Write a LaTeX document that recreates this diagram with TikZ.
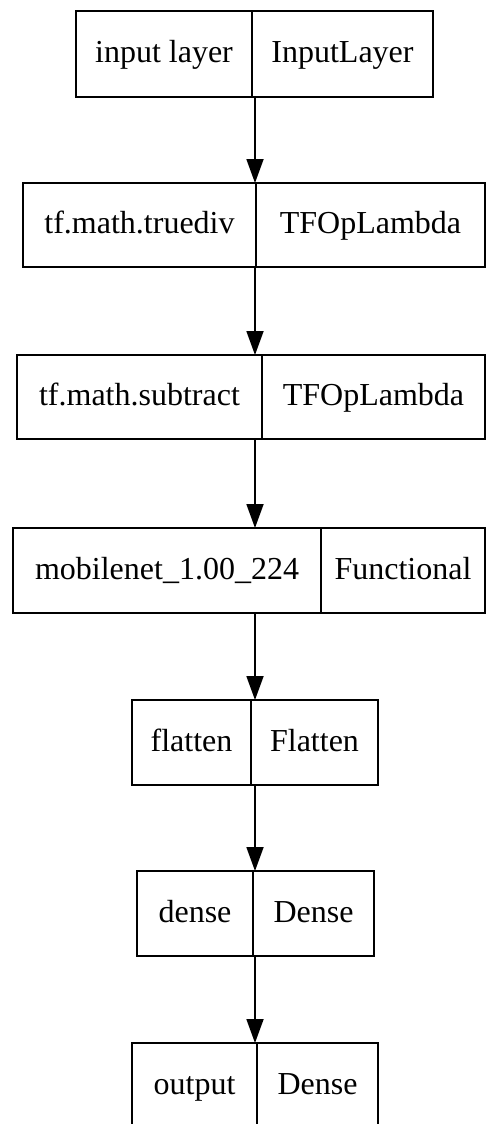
\documentclass[tikz,border=0pt]{standalone}
\usepackage{fontspec}
\setmainfont{Liberation Serif}
\usetikzlibrary{arrows.meta}

\tikzset{
  cell/.style={draw=black, line width=1.8pt, minimum height=85pt,
    inner sep=0pt, outer sep=0pt, text height=24pt, text depth=7pt,
    font=\fontsize{32pt}{38pt}\selectfont},
  flow/.style={draw=black, line width=1.8pt,
    -{Triangle[length=24pt,width=17pt]}},
}

\begin{document}
\begin{tikzpicture}[x=1pt, y=-1pt]
  \fill[white] (0,0) rectangle (486,1124);
  \useasboundingbox (0,0) rectangle (486,1124);
  \clip (0,0) rectangle (486,1124);

  % common vertical axis of the connectors
  \coordinate (axis) at (255,0);

  % layer name | layer class
  \node[cell, minimum width=176pt, minimum height=86pt] (inL) at (164,54) {input layer};
  \node[cell, minimum width=181pt, minimum height=86pt] (inR) at (342.5,54) {InputLayer};

  \node[cell, minimum width=233pt, minimum height=84pt] (tdL) at (139.5,225) {tf.math.truediv};
  \node[cell, minimum width=229pt, minimum height=84pt] (tdR) at (370.5,225) {TFOpLambda};

  \node[cell, minimum width=245pt, minimum height=84pt] (sbL) at (139.5,397) {tf.math.subtract};
  \node[cell, minimum width=223pt, minimum height=84pt] (sbR) at (373.5,397) {TFOpLambda};

  \node[cell, minimum width=308pt] (mnL) at (167,570.5) {mobilenet\_1.00\_224};
  \node[cell, minimum width=164pt] (mnR) at (403,570.5) {Functional};

  \node[cell, minimum width=119pt] (flL) at (191.5,742.5) {flatten};
  \node[cell, minimum width=127pt] (flR) at (314.5,742.5) {Flatten};

  \node[cell, minimum width=116pt] (dnL) at (195,913.5) {dense};
  \node[cell, minimum width=121pt] (dnR) at (313.5,913.5) {Dense};

  \node[cell, minimum width=125pt] (otL) at (194.5,1085.5) {output};
  \node[cell, minimum width=121pt] (otR) at (317.5,1085.5) {Dense};

  % connectors
  \draw[flow] (inL.south east -| axis) -- (tdL.north east -| axis);
  \draw[flow] (tdL.south east -| axis) -- (sbL.north east -| axis);
  \draw[flow] (sbL.south east -| axis) -- (mnL.north east -| axis);
  \draw[flow] (mnL.south east -| axis) -- (flL.north east -| axis);
  \draw[flow] (flL.south east -| axis) -- (dnL.north east -| axis);
  \draw[flow] (dnL.south east -| axis) -- (otL.north east -| axis);
\end{tikzpicture}
\end{document}
